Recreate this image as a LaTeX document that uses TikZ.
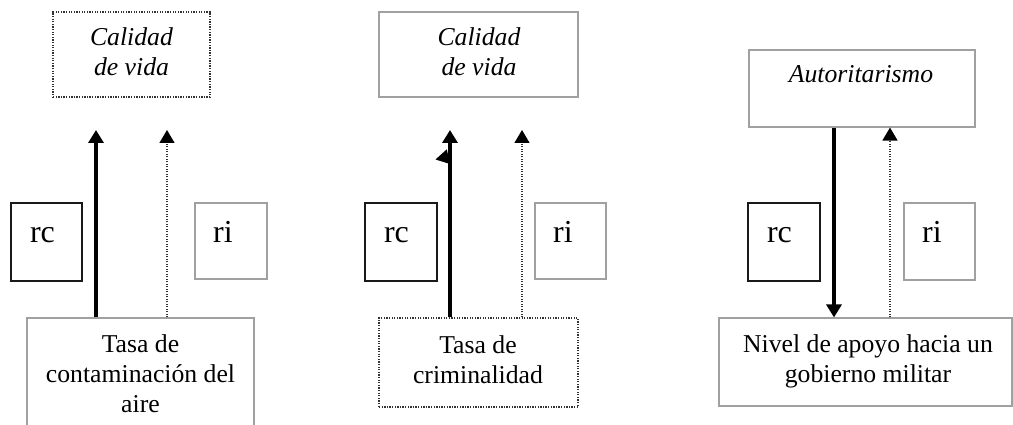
\documentclass[tikz,border=0pt]{standalone}
\usepackage{fontspec}
\setmainfont{Liberation Serif}
\usetikzlibrary{arrows.meta}
\definecolor{lightline}{RGB}{160,160,160}
\definecolor{darkline}{RGB}{25,25,25}
\definecolor{dotline}{RGB}{50,50,50}
\tikzset{
  lightbox/.style={draw=lightline, line width=1.1pt, inner sep=0pt},
  darkbox/.style={draw=darkline, line width=1.8pt, inner sep=0pt},
  dotbox/.style={draw=dotline, line width=1.3pt, dash pattern=on 1.3pt off 1.3pt, inner sep=0pt},
  txt/.style={font=\fontsize{25.7}{29.7}\selectfont, align=center, inner sep=0pt, anchor=base},
  itxt/.style={txt, font=\fontsize{25.7}{30}\selectfont\itshape},
  bigtxt/.style={font=\fontsize{32}{36}\selectfont, inner sep=0pt, anchor=base},
  thickarrow/.style={draw=black, line width=3.4pt, -{Triangle[width=15pt,length=13pt]}},
  dotarrow/.style={draw=dotline, line width=1.3pt, dash pattern=on 1.2pt off 1.3pt, -{Triangle[width=15pt,length=13pt,color=black]}}
}
\begin{document}
\begin{tikzpicture}[x=1pt,y=-1pt]
\useasboundingbox[fill=white] (0,0) rectangle (1013,425);
% ---------- Panel 1 ----------
\node[dotbox, minimum width=157pt, minimum height=85pt] (c1) at (131.5,54.5) {};
\node[itxt] (c1t) at (131.5,76) {Calidad\\de vida};
\node[darkbox, minimum width=71pt, minimum height=78pt] (rc1) at (46.5,242) {};
\node[bigtxt] (rc1t) at (42.5,243) {rc};
\node[lightbox, minimum width=72pt, minimum height=76pt] (ri1) at (231,241) {};
\node[bigtxt] (ri1t) at (223,243) {ri};
\node[lightbox, minimum width=227pt, minimum height=110pt] (b1) at (140.5,373) {};
\node[txt] (b1t) at (140.5,412) {Tasa de\\contaminación del\\aire};
\coordinate (t1a) at (96,130);
\coordinate (t1b) at (167,130);
\draw[thickarrow] (b1.north -| t1a) -- (t1a);
\draw[dotarrow] (b1.north -| t1b) -- (t1b);
% ---------- Panel 2 ----------
\node[lightbox, minimum width=199pt, minimum height=85pt] (c2) at (478.5,54.5) {};
\node[itxt] (c2t) at (479,76) {Calidad\\de vida};
\node[darkbox, minimum width=72pt, minimum height=78pt] (rc2) at (401,242) {};
\node[bigtxt] (rc2t) at (396.5,243) {rc};
\node[lightbox, minimum width=71pt, minimum height=76pt] (ri2) at (570.5,241) {};
\node[bigtxt] (ri2t) at (563,243) {ri};
\node[dotbox, minimum width=199pt, minimum height=89pt] (b2) at (478.5,362.5) {};
\node[txt] (b2t) at (478,383) {Tasa de\\criminalidad};
\coordinate (t2a) at (450,130);
\coordinate (t2b) at (522,130);
\draw[thickarrow] (b2.north -| t2a) -- (t2a);
\draw[dotarrow] (b2.north -| t2b) -- (t2b);
\fill[black] (435.5,159.5) -- (446.8,149.3) -- (450,164) -- cycle;
% ---------- Panel 3 ----------
\node[lightbox, minimum width=226pt, minimum height=77pt] (a3) at (862,88.5) {};
\node[itxt] (a3t) at (861,83) {Autoritarismo};
\node[darkbox, minimum width=72pt, minimum height=78pt] (rc3) at (784,242) {};
\node[bigtxt] (rc3t) at (779.5,243) {rc};
\node[lightbox, minimum width=71pt, minimum height=77pt] (ri3) at (939.5,241.5) {};
\node[bigtxt] (ri3t) at (932,243) {ri};
\node[lightbox, minimum width=293pt, minimum height=88pt] (b3) at (865.5,362) {};
\node[txt] (b3t) at (868,382) {Nivel de apoyo hacia un\\gobierno militar};
\coordinate (x3a) at (834,0);
\coordinate (x3b) at (890,0);
\draw[thickarrow] (a3.south -| x3a) -- (b3.north -| x3a);
\draw[dotarrow] (b3.north -| x3b) -- (a3.south -| x3b);
\end{tikzpicture}
\end{document}
